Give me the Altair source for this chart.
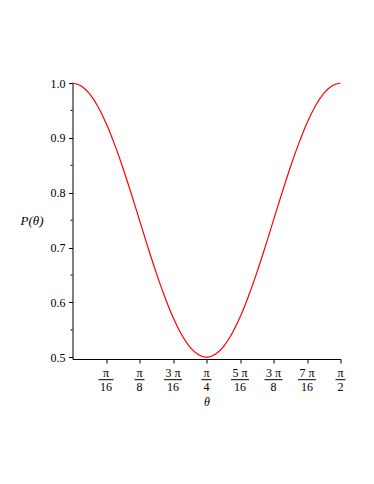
import altair as alt
import pandas as pd

# theta in units of pi/16 (0 .. 8 -> 0 .. pi/2)
theta16 = [0.0, 0.25, 0.5, 0.75, 1.0, 1.25, 1.5, 1.75, 2.0, 2.25, 2.5, 2.75,
           3.0, 3.25, 3.5, 3.75, 4.0, 4.25, 4.5, 4.75, 5.0, 5.25, 5.5, 5.75,
           6.0, 6.25, 6.5, 6.75, 7.0, 7.25, 7.5, 7.75, 8.0]
p_vals = [1.000, 0.995, 0.981, 0.958, 0.927, 0.889, 0.846, 0.799, 0.750,
          0.701, 0.654, 0.611, 0.573, 0.542, 0.519, 0.505, 0.500, 0.505,
          0.519, 0.542, 0.573, 0.611, 0.654, 0.701, 0.750, 0.799, 0.846,
          0.889, 0.927, 0.958, 0.981, 0.995, 1.000]

tick_pos = [1, 2, 3, 4, 5, 6, 7, 8]
numerators = ["π", "π", "3 π", "π", "5 π", "3 π", "7 π", "π"]
denominators = ["16", "8", "16", "4", "16", "8", "16", "2"]

y_major = [0.5, 0.6, 0.7, 0.8, 0.9, 1.0]
y_minor = [0.55, 0.65, 0.75, 0.85, 0.95]

SERIF = "Liberation Serif"

curve = pd.DataFrame({"t": theta16, "p": p_vals})
labels = pd.DataFrame({"t": tick_pos, "num": numerators, "den": denominators})
minor = pd.DataFrame({"p": y_minor})

x_scale = alt.Scale(domain=[0, 8], nice=False, zero=False)
y_scale = alt.Scale(domain=[0.497, 1.0], nice=False, zero=False)

x_axis = alt.Axis(values=tick_pos, labels=False, tickSize=4,
                  tickColor="black", domainColor="black", grid=False,
                  title="θ", titleX=134, titleY=42.5,
                  titleAlign="center", titleBaseline="middle",
                  titleFont=SERIF, titleFontSize=12,
                  titleFontStyle="italic", titleFontWeight="normal",
                  titleColor="black")
y_axis = alt.Axis(values=y_major, format=".1f", tickSize=4,
                  tickColor="black", domainColor="black", grid=False,
                  labelFont=SERIF, labelFontSize=12, labelColor="black",
                  labelPadding=3.5,
                  title="P(θ)", titleAngle=0, titleX=-41, titleY=137,
                  titleAlign="center", titleBaseline="middle",
                  titleFont=SERIF, titleFontSize=13,
                  titleFontStyle="italic", titleFontWeight="normal",
                  titleColor="black")

X = alt.X("t:Q", scale=x_scale, axis=x_axis)

line = alt.Chart(curve).mark_line(
    color="#ff0000", strokeWidth=1.2, interpolate="monotone"
).encode(
    x=X,
    y=alt.Y("p:Q", scale=y_scale, axis=y_axis),
)

minor_ticks = alt.Chart(minor).mark_rule(color="black", strokeWidth=1).encode(
    y=alt.Y("p:Q", scale=y_scale, axis=y_axis),
    x=alt.value(-2),
    x2=alt.value(0),
)

num_text = alt.Chart(labels).mark_text(
    font=SERIF, fontSize=12, align="center", baseline="middle", color="black"
).encode(
    x=X,
    y=alt.value(290),
    text="num:N",
)

den_text = alt.Chart(labels).mark_text(
    font=SERIF, fontSize=12, align="center", baseline="middle", color="black"
).encode(
    x=X,
    y=alt.value(304.3),
    text="den:N",
)

bars = []
for cls, half in [("wide", 9), ("mid", 7.5), ("narrow", 5)]:
    b = alt.Chart(labels).transform_calculate(
        cls="length(datum.num) > 1 ? 'wide' : (length(datum.den) > 1 ? 'mid' : 'narrow')"
    ).transform_filter(
        alt.datum.cls == cls
    ).mark_rule(color="black", strokeWidth=1, xOffset=-half, x2Offset=half).encode(
        x=X,
        x2="t:Q",
        y=alt.value(296.7),
    )
    bars.append(b)

chart = alt.layer(line, minor_ticks, num_text, den_text, *bars).properties(
    width=268,
    height=276,
    padding={"left": 11.5, "top": 69, "right": 5, "bottom": 5},
).configure_view(strokeWidth=0)

chart.save("out.html", embed_options={"renderer": "svg", "actions": False})
